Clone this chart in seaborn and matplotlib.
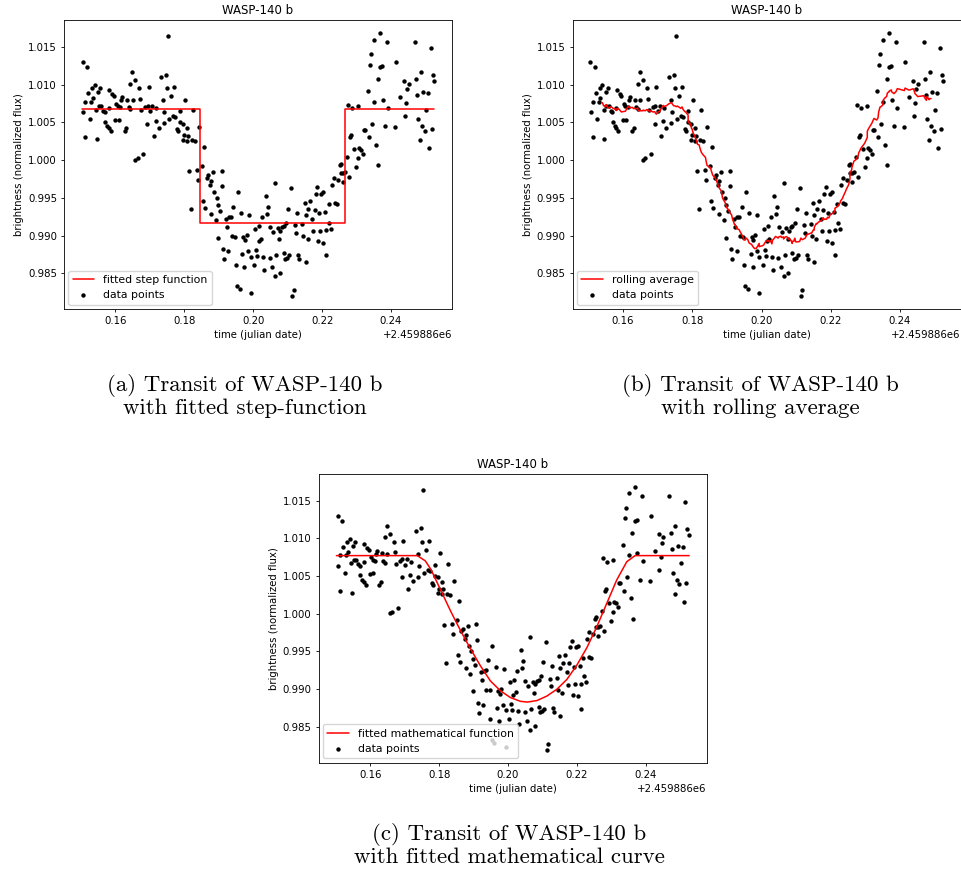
import numpy as np
import pandas as pd
import matplotlib
matplotlib.use("Agg")
import matplotlib.pyplot as plt
import seaborn as sns

JD0 = 2459886.0

# fractional julian date (days after 2459886) and normalised flux
time_frac = [
    0.15054, 0.15180, 0.16481, 0.16433, 0.16577, 0.15401, 0.15324, 0.15565, 0.15208, 0.15498,
    0.15825, 0.15903, 0.15951, 0.15343, 0.15131, 0.15295, 0.16192, 0.16163, 0.16336, 0.16500,
    0.16028, 0.15517, 0.15594, 0.15806, 0.16067, 0.16144, 0.16385, 0.16423, 0.15440, 0.15652,
    0.15691, 0.15074, 0.15257, 0.15710, 0.15999, 0.16095, 0.15758, 0.15806, 0.15864, 0.16307,
    0.16269, 0.15131, 0.15459, 0.16577,
    0.17541, 0.16684, 0.16722, 0.17320, 0.17464, 0.17493, 0.17705, 0.16963, 0.17609, 0.17378,
    0.18024, 0.16934, 0.16867, 0.17060, 0.17185, 0.16741, 0.17011, 0.17416, 0.17879, 0.18265,
    0.17667, 0.17734, 0.17570, 0.17166, 0.17397, 0.16915, 0.17879, 0.17956, 0.17252, 0.17783,
    0.18072, 0.17811, 0.17995, 0.17108, 0.18120, 0.17975, 0.18091, 0.18236, 0.18322, 0.18428,
    0.16645, 0.16799, 0.18149, 0.18381, 0.18400, 0.18197,
    0.18583, 0.18525, 0.18843, 0.19084, 0.18698, 0.18650, 0.18776, 0.18747, 0.19103, 0.18872,
    0.18940, 0.19547, 0.18544, 0.18602, 0.18988, 0.19036, 0.19422, 0.18776, 0.18911, 0.19643,
    0.19875, 0.19219, 0.19296, 0.19354, 0.20260, 0.19238, 0.18988, 0.19373, 0.19470, 0.19711,
    0.19759, 0.19807, 0.20067, 0.20183, 0.20222, 0.20160, 0.19132, 0.19277, 0.19855, 0.20096,
    0.19161, 0.19682, 0.19932, 0.20125, 0.20299, 0.19489, 0.19740, 0.20029, 0.19528, 0.19605,
    0.19932,
    0.20636, 0.21099, 0.21851, 0.21812, 0.21976, 0.22025, 0.20366, 0.20434, 0.20405, 0.21022,
    0.21273, 0.21524, 0.21600, 0.21658, 0.21494, 0.21784, 0.21909, 0.21716, 0.22082, 0.22188,
    0.20501, 0.20578, 0.20964, 0.21215, 0.21427, 0.21253, 0.21446, 0.21581, 0.21735, 0.21947,
    0.22121, 0.21880, 0.22025, 0.20714, 0.20791, 0.20848, 0.20887, 0.20752, 0.20482, 0.20675,
    0.20887, 0.20984, 0.20926, 0.21041, 0.21311, 0.21331, 0.21523, 0.22121, 0.20318, 0.20559,
    0.20771, 0.20636, 0.21176, 0.21138,
    0.23692, 0.23519, 0.23885, 0.23422, 0.23384, 0.23692, 0.23750, 0.23615, 0.23326, 0.23500,
    0.23760, 0.22748, 0.22863, 0.23056, 0.23924, 0.23442, 0.23210, 0.23249, 0.22844, 0.22806,
    0.23365, 0.23827, 0.23567, 0.22940, 0.23085, 0.23133, 0.23191, 0.23056, 0.22979, 0.23635,
    0.22728, 0.22555, 0.22516, 0.22670, 0.22555, 0.22613, 0.22343, 0.22459, 0.22603, 0.22796,
    0.22285, 0.22362, 0.22420, 0.22266, 0.22208,
    0.24686, 0.25148, 0.24146, 0.24859, 0.25206, 0.25245, 0.24724, 0.24377, 0.24512, 0.24474,
    0.24261, 0.24763, 0.24936, 0.25071, 0.24435, 0.25013, 0.24396, 0.24126, 0.24782, 0.24898,
    0.24975, 0.25177, 0.24840, 0.25100,
]
flux = [
    1.01293, 1.01227, 1.01161, 1.01011, 1.01055, 1.00994, 1.00949, 1.00954, 1.00888, 1.00897,
    1.00923, 1.00875, 1.00844, 1.00817, 1.00773, 1.00773, 1.00835, 1.00791, 1.00800, 1.00791,
    1.00747, 1.00712, 1.00712, 1.00685, 1.00712, 1.00703, 1.00703, 1.00676, 1.00667, 1.00654,
    1.00632, 1.00632, 1.00544, 1.00509, 1.00527, 1.00535, 1.00447, 1.00421, 1.00381, 1.00421,
    1.00381, 1.00306, 1.00280, 1.00007,
    1.01645, 1.00949, 1.00813, 1.01095, 1.01130, 1.00949, 1.00967, 1.00963, 1.00844, 1.00791,
    1.00800, 1.00720, 1.00703, 1.00720, 1.00685, 1.00659, 1.00645, 1.00637, 1.00650, 1.00659,
    1.00579, 1.00571, 1.00544, 1.00513, 1.00491, 1.00482, 1.00500, 1.00482, 1.00430, 1.00412,
    1.00421, 1.00381, 1.00333, 1.00324, 1.00324, 1.00271, 1.00258, 1.00262, 1.00253, 1.00438,
    1.00029, 1.00077, 0.99853, 0.99866, 0.99734, 0.99346,
    1.00170, 0.99919, 0.99839, 0.99861, 0.99804, 0.99765, 0.99720, 0.99668, 0.99654, 0.99579,
    0.99500, 0.99571, 0.99456, 0.99359, 0.99399, 0.99324, 0.99381, 0.99280, 0.99205, 0.99293,
    0.99271, 0.99223, 0.99240, 0.99249, 0.99245, 0.99117, 0.98972, 0.98994, 0.98985, 0.98976,
    0.98941, 0.99002, 0.99090, 0.99126, 0.98958, 0.98930, 0.98817, 0.98795, 0.98795, 0.98809,
    0.98685, 0.98751, 0.98720, 0.98729, 0.98712, 0.98606, 0.98580, 0.98606, 0.98333, 0.98289,
    0.98236,
    0.99698, 0.99628, 0.99637, 0.99553, 0.99553, 0.99575, 0.99522, 0.99377, 0.99280, 0.99355,
    0.99302, 0.99276, 0.99346, 0.99456, 0.99434, 0.99342, 0.99293, 0.99223, 0.99311, 0.99416,
    0.99112, 0.99046, 0.99170, 0.99135, 0.99148, 0.99038, 0.98994, 0.98949, 0.99055, 0.99064,
    0.99068, 0.98923, 0.98906, 0.99095, 0.99064, 0.99112, 0.99126, 0.98950, 0.98699, 0.98738,
    0.98765, 0.98707, 0.98694, 0.98738, 0.98747, 0.98694, 0.98650, 0.98738, 0.98544, 0.98584,
    0.98509, 0.98465, 0.98275, 0.98201,
    1.01681, 1.01593, 1.01566, 1.01403, 1.01262, 1.01231, 1.01240, 1.01073, 1.00910, 1.00773,
    1.00800, 1.00734, 1.00685, 1.00712, 1.00694, 1.00483, 1.00403, 1.00403, 1.00333, 1.00306,
    1.00306, 1.00447, 1.00205, 1.00148, 1.00157, 1.00139, 1.00086, 1.00029, 0.99910, 0.99928,
    1.00042, 0.99954, 0.99936, 0.99839, 0.99831, 0.99822, 0.99760, 0.99734, 0.99707, 0.99769,
    0.99668, 0.99425, 0.99416, 0.99091, 0.99170,
    1.01566, 1.01478, 1.01293, 1.01165, 1.01126, 1.01042, 1.01073, 1.01051, 1.01011, 1.00941,
    1.00835, 1.00857, 1.00897, 1.00888, 1.00751, 1.00667, 1.00584, 1.00434, 1.00544, 1.00452,
    1.00390, 1.00412, 1.00267, 1.00161,
]

# fitted step function (panel a)
step_t = [0.1502, 0.1845, 0.1845, 0.2268, 0.2268, 0.2526]
step_f = [1.0067, 1.0067, 0.9917, 0.9917, 1.0067, 1.0067]

# fitted mathematical curve (panel c)
curve_t = [0.1502, 0.1737, 0.1760, 0.1776, 0.1805, 0.1834, 0.1863, 0.1892, 0.1920, 0.1949,
           0.1978, 0.2007, 0.2036, 0.2056, 0.2084, 0.2113, 0.2142, 0.2171, 0.2200, 0.2229,
           0.2258, 0.2287, 0.2316, 0.2345, 0.2369, 0.2526]
curve_f = [1.0077, 1.0077, 1.0070, 1.0059, 1.0031, 1.0003, 0.9977, 0.9953, 0.9931, 0.9911,
           0.9898, 0.9889, 0.9884, 0.9883, 0.9885, 0.9891, 0.9900, 0.9913, 0.9932, 0.9955,
           0.9983, 1.0014, 1.0045, 1.0069, 1.0077, 1.0077]

ROLL_WINDOW = 20

sns.set_style("ticks")
plt.rcParams.update({
    "font.family": ["DejaVu Sans"],
    "axes.edgecolor": "black",
    "axes.linewidth": 0.6,
    "xtick.color": "black",
    "ytick.color": "black",
    "xtick.major.size": 2.5,
    "ytick.major.size": 2.5,
    "xtick.major.width": 0.6,
    "ytick.major.width": 0.6,
    "xtick.major.pad": 2.5,
    "ytick.major.pad": 2.5,
    "xtick.labelsize": 7.3,
    "ytick.labelsize": 7.3,
    "axes.labelsize": 7.3,
    "axes.titlesize": 8.5,
    "axes.labelcolor": "black",
    "text.color": "black",
    "legend.fontsize": 7.8,
    "axes.labelpad": 2.8,
    "axes.formatter.useoffset": True,
})

W, H = 962, 876
fig = plt.figure(figsize=(W / 100, H / 100), dpi=100)


def rect(l, t, r, b):
    return [l / W, 1 - b / H, (r - l) / W, (b - t) / H]


ax_a = fig.add_axes(rect(64, 20, 452, 309))
ax_b = fig.add_axes(rect(572.7, 20, 960.7, 309))
ax_c = fig.add_axes(rect(318.8, 473.7, 706.8, 762.7))

t_all = np.array(time_frac) + JD0
f_all = np.array(flux)

df = pd.DataFrame({"t": t_all, "f": f_all}).sort_values("t").reset_index(drop=True)
df["roll"] = df["f"].rolling(ROLL_WINDOW, center=True).mean()
roll_df = df.dropna()


def decorate(ax):
    ax.set_title("WASP-140 b", pad=4)
    ax.set_xlabel("time (julian date)")
    ax.set_ylabel("brightness (normalized flux)")
    ax.legend(loc="lower left", borderpad=0.4, handlelength=2.0, labelspacing=0.5,
              borderaxespad=0.4, framealpha=0.8, edgecolor="0.8", fancybox=True)
    for s in ax.spines.values():
        s.set_visible(True)


# (a)
sns.lineplot(x=np.array(step_t) + JD0, y=step_f, ax=ax_a, color="red", lw=1.1,
             estimator=None, sort=False, label="fitted step function")
sns.scatterplot(x=t_all, y=f_all, ax=ax_a, color="black", s=10, linewidth=0,
                label="data points")
decorate(ax_a)

# (b)
sns.lineplot(x=roll_df["t"], y=roll_df["roll"], ax=ax_b, color="red", lw=1.1,
             estimator=None, sort=False, label="rolling average")
sns.scatterplot(x=t_all, y=f_all, ax=ax_b, color="black", s=10, linewidth=0,
                label="data points")
decorate(ax_b)

# (c)
sns.lineplot(x=np.array(curve_t) + JD0, y=curve_f, ax=ax_c, color="red", lw=1.1,
             estimator=None, sort=False, label="fitted mathematical function")
sns.scatterplot(x=t_all, y=f_all, ax=ax_c, color="black", s=10, linewidth=0,
                label="data points")
decorate(ax_c)

cap_kw = dict(ha="center", va="center", fontsize=16.5, family="cmr10", linespacing=1.12)
fig.text(245 / W, 1 - 396 / H, "(a) Transit of WASP-140 b\nwith fitted step-function", **cap_kw)
fig.text(760 / W, 1 - 396 / H, "(b) Transit of WASP-140 b\nwith rolling average", **cap_kw)
fig.text(509 / W, 1 - 845 / H, "(c) Transit of WASP-140 b\nwith fitted mathematical curve", **cap_kw)

fig.savefig("out.png", dpi=100, facecolor="white")
